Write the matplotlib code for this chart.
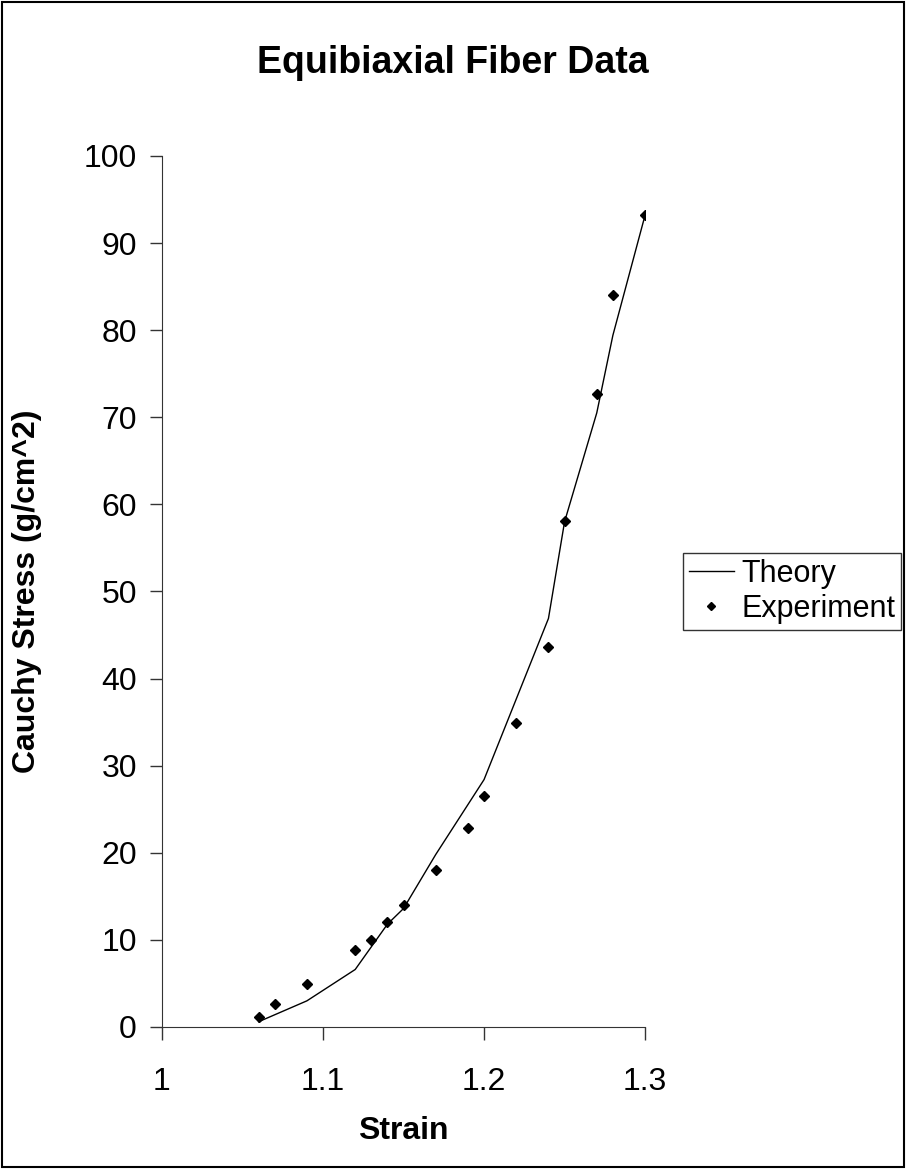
import matplotlib
matplotlib.use("Agg")
import matplotlib.pyplot as plt
from matplotlib.patches import Rectangle

plt.rcParams['font.family'] = ['Liberation Sans', 'DejaVu Sans']

# experiment points
exp_strain = [1.06, 1.07, 1.09, 1.12, 1.13, 1.14, 1.15, 1.17, 1.19, 1.20,
              1.22, 1.24, 1.25, 1.27, 1.28, 1.30]
exp_stress = [1.2, 2.6, 4.9, 8.8, 10.0, 12.1, 14.0, 18.0, 22.9, 26.5,
              34.9, 43.6, 58.1, 72.7, 84.0, 93.2]

# theory curve
th_strain = [1.06, 1.09, 1.12, 1.14, 1.15, 1.17, 1.20, 1.24, 1.25, 1.27, 1.28, 1.30]
th_stress = [0.6, 3.0, 6.6, 11.8, 13.6, 19.8, 28.4, 46.9, 58.0, 70.5, 79.4, 93.2]

fig = plt.figure(figsize=(9.06, 11.69), dpi=100)
ax = fig.add_axes([0.1788, 0.1215, 0.5332, 0.7451])

ax.plot(th_strain, th_stress, color='black', lw=1.0, label='Theory')
ax.plot(exp_strain, exp_stress, linestyle='none', marker='D', ms=5.5,
        color='black', label='Experiment')

ax.set_xlim(1, 1.3)
ax.set_ylim(0, 100)
ax.set_xticks([1, 1.1, 1.2, 1.3])
ax.set_xticklabels(['1', '1.1', '1.2', '1.3'])
ax.set_yticks(range(0, 101, 10))
ax.spines['top'].set_visible(False)
ax.spines['right'].set_visible(False)
ax.spines['left'].set_color('#333333')
ax.spines['bottom'].set_color('#333333')
ax.tick_params(direction='out', length=9, width=1, colors='#333333',
               labelcolor='black', labelsize=23)
ax.tick_params(axis='x', pad=20)
ax.tick_params(axis='y', pad=9)

ax.set_xlabel('Strain', fontsize=23, fontweight='bold')
ax.set_ylabel('Cauchy Stress (g/cm^2)', fontsize=23, fontweight='bold')
ax.xaxis.label.set_va('center')
ax.yaxis.label.set_va('center')
ax.xaxis.set_label_coords(0.5, -0.1195)
ax.yaxis.set_label_coords(-0.279, 0.5)

fig.text(0.5, 0.946, 'Equibiaxial Fiber Data', ha='center', va='center',
         fontsize=27, fontweight='bold')

leg = ax.legend(loc='center left', bbox_to_anchor=(1.0787, 0.5), fontsize=22,
                frameon=True, fancybox=False, edgecolor='black',
                handlelength=1.45, handletextpad=0.25, borderpad=0.2,
                labelspacing=0.15, borderaxespad=0, markerscale=0.7)
leg.get_frame().set_linewidth(1.0)

# outer border of the chart area
fig.patches.append(Rectangle((0.002, 0.002), 0.996, 0.996, transform=fig.transFigure,
                             fill=False, edgecolor='black', lw=1.5))

fig.savefig('out.png', dpi=100)
